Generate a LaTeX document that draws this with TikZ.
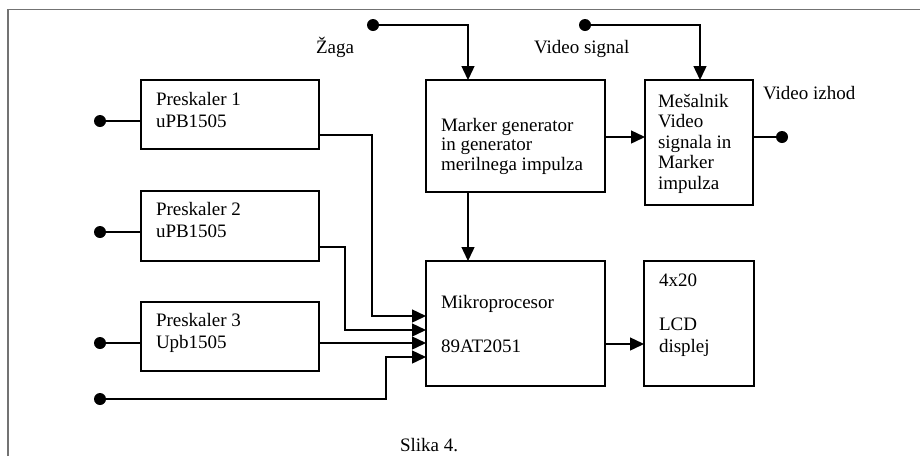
\documentclass[tikz,border=0pt]{standalone}
\usepackage{fontspec}
\setmainfont{Liberation Serif}
\usetikzlibrary{arrows.meta}
\begin{document}
\begin{tikzpicture}[x=1pt,y=-1pt,
  every node/.style={inner sep=0pt,outer sep=0pt},
  blk/.style={draw,line width=1.5pt,anchor=north west},
  txt/.style={anchor=base west,font=\fontsize{19}{21}\selectfont},
  wire/.style={line width=1.4pt},
  arr/.style={wire,-{Triangle[length=14pt,width=13pt]}},
  pin/.style={circle,fill,minimum size=12pt}]
\useasboundingbox (0,0) rectangle (920,456);
% frame
\draw[line width=1.6pt,black!55] (8,456) -- (8,9.5) -- (920,9.5);

% blocks
\node[blk,minimum width=178pt,minimum height=69pt] (p1) at (141,80) {};
\node[blk,minimum width=178pt,minimum height=70pt] (p2) at (141,191) {};
\node[blk,minimum width=178pt,minimum height=69pt] (p3) at (141,302) {};
\node[blk,minimum width=179pt,minimum height=112pt] (mg) at (426,80) {};
\node[blk,minimum width=108pt,minimum height=125pt] (mx) at (645,80) {};
\node[blk,minimum width=179pt,minimum height=125pt] (mc) at (426,261) {};
\node[blk,minimum width=110pt,minimum height=125pt] (lcd) at (644,261) {};

% block texts
\node[txt] (p1a) at (156,105) {Preskaler 1};
\node[txt] (p1b) at (156,127) {uPB1505};
\node[txt] (p2a) at (156,215) {Preskaler 2};
\node[txt] (p2b) at (156,237) {uPB1505};
\node[txt] (p3a) at (156,326) {Preskaler 3};
\node[txt] (p3b) at (156,348) {Upb1505};
\node[txt] (mga) at (441,131) {Marker generator};
\node[txt] (mgb) at (441,150) {in generator};
\node[txt] (mgc) at (441,170) {merilnega impulza};
\node[txt] (mxa) at (658,107) {Mešalnik};
\node[txt] (mxb) at (658,127) {Video};
\node[txt] (mxc) at (658,148) {signala in};
\node[txt] (mxd) at (658,168) {Marker};
\node[txt] (mxe) at (658,189) {impulza};
\node[txt] (mca) at (441,308) {Mikroprocesor};
\node[txt] (mcb) at (441,352) {89AT2051};
\node[txt] (lca) at (659,286) {4x20};
\node[txt] (lcb) at (659,330) {LCD};
\node[txt] (lcc) at (659,352) {displej};

% free labels
\node[txt] (zaga) at (316,53) {Žaga};
\node[txt] (vsig) at (534,53) {Video signal};
\node[txt] (viz) at (763,99) {Video izhod};
\node[txt] (cap) at (400,451) {Slika 4.};

% terminals
\node[pin] (d1) at (100,121) {};
\node[pin] (d2) at (100,232) {};
\node[pin] (d3) at (100,343) {};
\node[pin] (d4) at (100,399) {};
\node[pin] (dz) at (373,25) {};
\node[pin] (dv) at (585,25) {};
\node[pin] (dout) at (782,137) {};

% connection points on block edges
\coordinate (p1o) at (319,135);
\coordinate (p2o) at (319,247);
\coordinate (p3o) at (319,343);
\coordinate (mi1) at (426,316);
\coordinate (mi2) at (426,330);
\coordinate (mi3) at (426,343);
\coordinate (mi4) at (426,357);

% connectors
\draw[wire] (d1) -- (d1 -| p1.west);
\draw[wire] (d2) -- (d2 -| p2.west);
\draw[wire] (d3) -- (d3 -| p3.west);
\draw[arr] (p1o) -- (372,135) |- (mi1);
\draw[arr] (p2o) -- (345,247) |- (mi2);
\draw[arr] (p3o) -- (mi3);
\draw[arr] (d4) -- (386,399) |- (mi4);
\draw[arr] (dz) -| (mg.north -| 468,0);
\draw[arr] (dv) -| (mx.north -| 700,0);
\draw[arr] (mg.east |- 0,137) -- (mx.west |- 0,137);
\draw[wire] (mx.east |- dout) -- (dout);
\draw[arr] (mg.south -| 468,0) -- (mc.north -| 468,0);
\draw[arr] (mc.east |- 0,344) -- (lcd.west |- 0,344);
\end{tikzpicture}
\end{document}
